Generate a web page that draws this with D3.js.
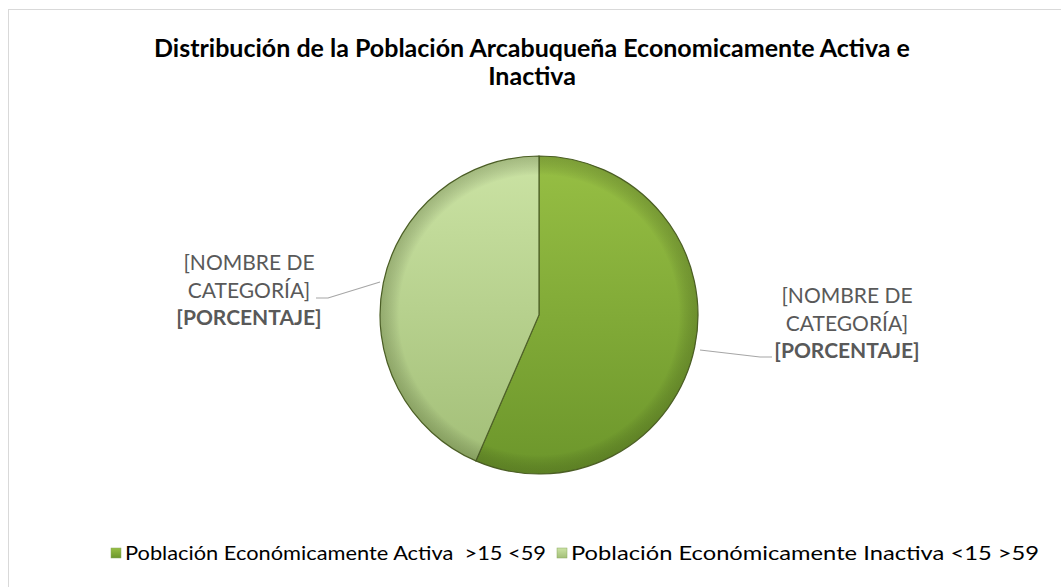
<!DOCTYPE html>
<meta charset="utf-8"/>
<head>
<style>
  body { margin:0; background:#fff; }
  text { font-family: Lato, "Open Sans", sans-serif; }
</style>
<script src="https://d3js.org/d3.v7.min.js"></script>
</head>
<body>
<script>
  // data
  var categorias = ["Población Económicamente Activa  >15 <59", "Población Económicamente Inactiva <15 >59"];
  var porcentajes = [56.5, 43.5];
  var etiquetas = ["[NOMBRE DE", "CATEGORÍA]", "[PORCENTAJE]"];
  var titulo = ["Distribución de la Población Arcabuqueña Economicamente Activa e", "Inactiva"];

  var width = 1061, height = 587;
  var cx = 539, cy = 315, radius = 159;

  var svg = d3.select("body").append("svg")
    .attr("width", width)
    .attr("height", height);

  // chart border
  svg.append("rect")
    .attr("x", 8.5).attr("y", 9.5)
    .attr("width", 1060).attr("height", 600)
    .attr("fill", "none")
    .attr("stroke", "#d9d9d9");

  var defs = svg.append("defs");
  var grads = [["#97bf44", "#6c962b"], ["#cbe3a4", "#a3bf78"]];
  grads.forEach(function(c, i){
    var g = defs.append("linearGradient").attr("id", "g" + i)
      .attr("x1", 0).attr("y1", 0).attr("x2", 0).attr("y2", 1);
    g.append("stop").attr("offset", "0%").attr("stop-color", c[0]);
    g.append("stop").attr("offset", "100%").attr("stop-color", c[1]);
  });
  // soft rim for the bevel look
  var rim = defs.append("radialGradient").attr("id", "rim");
  rim.append("stop").attr("offset", "88%").attr("stop-color", "#000").attr("stop-opacity", 0);
  rim.append("stop").attr("offset", "100%").attr("stop-color", "#2d3d10").attr("stop-opacity", 0.25);

  // title
  svg.append("text")
    .attr("x", 532).attr("y", 57)
    .attr("text-anchor", "middle")
    .style("font-size", "25px").style("font-weight", "bold").attr("fill", "#000")
    .selectAll("tspan").data(titulo).enter().append("tspan")
    .attr("x", 532).attr("dy", function(d, i){ return i ? 28 : 0; })
    .text(function(d){ return d; });

  var pie = d3.pie().sort(null).value(function(d){ return d; });
  var arc = d3.arc().innerRadius(0).outerRadius(radius);

  var group = svg.append("g").attr("transform", "translate(" + cx + "," + cy + ")");

  group.selectAll(".arc")
    .data(pie(porcentajes))
    .enter().append("path")
    .attr("class", "arc")
    .attr("d", arc)
    .attr("fill", function(d, i){ return "url(#g" + i + ")"; })
    .attr("stroke", "#4f6228")
    .attr("stroke-width", 1.2);

  group.append("circle").attr("r", radius).attr("fill", "url(#rim)").attr("pointer-events", "none");

  // data labels with leader lines
  var labelPos = [
    {x: 847, y: 303, line: [[700, 350], [760, 357], [772, 357]]},
    {x: 249, y: 270, line: [[380, 282], [328, 298], [316, 298]]}
  ];
  labelPos.forEach(function(p){
    svg.append("path")
      .attr("d", d3.line()(p.line))
      .attr("fill", "none").attr("stroke", "#a6a6a6").attr("stroke-width", 1.2);
    svg.append("text")
      .attr("text-anchor", "middle")
      .style("font-size", "21px").attr("fill", "#595959")
      .selectAll("tspan").data(etiquetas).enter().append("tspan")
      .attr("x", p.x).attr("y", function(d, i){ return p.y + i * 27.5; })
      .style("font-weight", function(d, i){ return i == 2 ? "bold" : "normal"; })
      .text(function(d){ return d; });
  });

  // legend
  var legX = [111, 557];
  var legW = [421, 468];
  categorias.forEach(function(c, i){
    svg.append("rect")
      .attr("x", legX[i]).attr("y", 548).attr("width", 10).attr("height", 10)
      .attr("fill", "url(#g" + i + ")").attr("stroke", "#8aa860").attr("stroke-width", 0.5);
    svg.append("text")
      .attr("x", legX[i] + 14).attr("y", 560)
      .style("font-size", "20px").attr("fill", "#000")
      .attr("xml:space", "preserve")
      .attr("textLength", legW[i]).attr("lengthAdjust", "spacingAndGlyphs")
      .text(c);
  });
</script>
</body>
</html>
